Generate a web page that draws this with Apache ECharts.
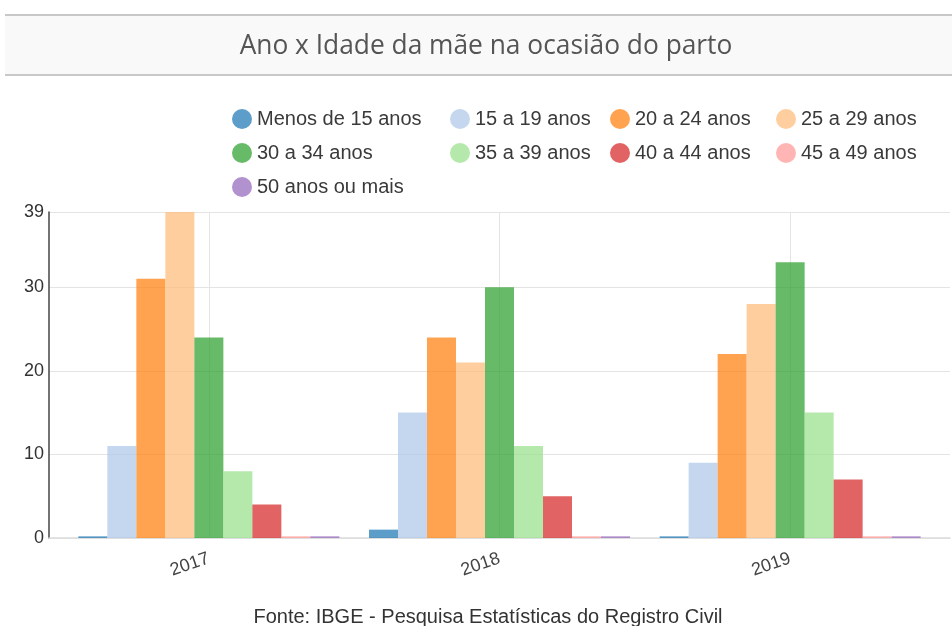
<!DOCTYPE html>
<html>
<head>
<meta charset="utf-8">
<script src="https://cdn.jsdelivr.net/npm/echarts@6/dist/echarts.min.js"></script>
<style>
  html, body { margin: 0; padding: 0; background: #fff; }
  #echarts { width: 952px; height: 626px; }
</style>
</head>
<body>
<div id="echarts"></div>
<script>
// anos (eixo x)
var anos = [2017, 2018, 2019];

// faixas de idade da mãe
var faixas = ['Menos de 15 anos', '15 a 19 anos', '20 a 24 anos', '25 a 29 anos',
    '30 a 34 anos', '35 a 39 anos', '40 a 44 anos', '45 a 49 anos', '50 anos ou mais'];

// valores por ano, na ordem das faixas
var valores2017 = [0.2, 11, 31, 39, 24, 8, 4, 0.2, 0.2];
var valores2018 = [1, 15, 24, 21, 30, 11, 5, 0.2, 0.2];
var valores2019 = [0.2, 9, 22, 28, 33, 15, 7, 0.2, 0.2];

// marcas do eixo y
var yTicks = [0, 10, 20, 30, 39];

var cores = ['#1f77b4', '#aec7e8', '#ff7f0e', '#ffbb78', '#2ca02c',
    '#98df8a', '#d62728', '#ff9896', '#9467bd'];

var todos = [valores2017, valores2018, valores2019];

var series = faixas.map(function(nome, i){
    return {
        name: nome,
        type: 'bar',
        barWidth: 29,
        barGap: '0%',
        itemStyle: {color: cores[i], opacity: 0.72},
        emphasis: {disabled: true},
        data: anos.map(function(a, j){ return [a, todos[j][i]]; })
    };
});

// legenda em colunas, como na figura
var colunas = [[0, 4, 8], [1, 5], [2, 6], [3, 7]];
var colLeft = [232, 450, 610, 776];
var legends = colunas.map(function(c, k){
    return {
        orient: 'vertical',
        left: colLeft[k],
        top: 109,
        padding: 0,
        icon: 'circle',
        itemWidth: 20,
        itemHeight: 20,
        itemGap: 14,
        textStyle: {fontFamily: 'Liberation Sans', fontSize: 20, color: '#3a3a3a'},
        selectedMode: false,
        data: c.map(function(i){ return faixas[i]; })
    };
});

var option = {
    animation: false,
    title: {
        text: 'Fonte: IBGE - Pesquisa Estatísticas do Registro Civil',
        left: 488,
        textAlign: 'center',
        top: 607,
        padding: 0,
        textStyle: {fontFamily: 'Liberation Sans', fontSize: 20, fontWeight: 'normal', color: '#333'}
    },
    graphic: [
        {type: 'rect', z: -1, shape: {x: 5, y: 15, width: 947, height: 60}, style: {fill: '#f9f9f9'}},
        {type: 'line', shape: {x1: 5, y1: 15, x2: 952, y2: 15}, style: {stroke: '#c8c8c8', lineWidth: 2}},
        {type: 'line', shape: {x1: 5, y1: 75, x2: 952, y2: 75}, style: {stroke: '#c8c8c8', lineWidth: 2}},
        {
            type: 'text', x: 486, y: 46, scaleX: 0.94,
            style: {
                text: 'Ano x Idade da mãe na ocasião do parto',
                textAlign: 'center', textVerticalAlign: 'middle',
                font: '28px "Open Sans"', fill: '#555'
            }
        }
    ],
    legend: legends,
    grid: {left: 49, right: 2, top: 212, bottom: 88},
    xAxis: {
        type: 'value',
        min: 2016.45,
        max: 2019.55,
        axisLine: {show: true, lineStyle: {color: '#dcdcdc', width: 1.5}},
        axisTick: {show: false, customValues: anos},
        axisLabel: {
            customValues: anos,
            rotate: 19,
            margin: 20,
            fontFamily: 'Liberation Sans',
            fontSize: 18,
            color: '#444',
            formatter: function(v){ return String(v); }
        },
        splitLine: {show: true, lineStyle: {color: '#e4e4e4'}}
    },
    yAxis: {
        type: 'value',
        min: 0,
        max: 39,
        axisLine: {show: true, lineStyle: {color: '#444', width: 1.5}},
        axisTick: {show: false},
        axisLabel: {
            customValues: yTicks,
            margin: 5,
            fontFamily: 'Liberation Sans',
            fontSize: 18,
            color: '#333'
        },
        splitLine: {show: true, lineStyle: {color: '#e4e4e4'}}
    },
    series: series
};

var myChart = echarts.init(document.getElementById('echarts'));
myChart.setOption(option);
</script>
</body>
</html>
